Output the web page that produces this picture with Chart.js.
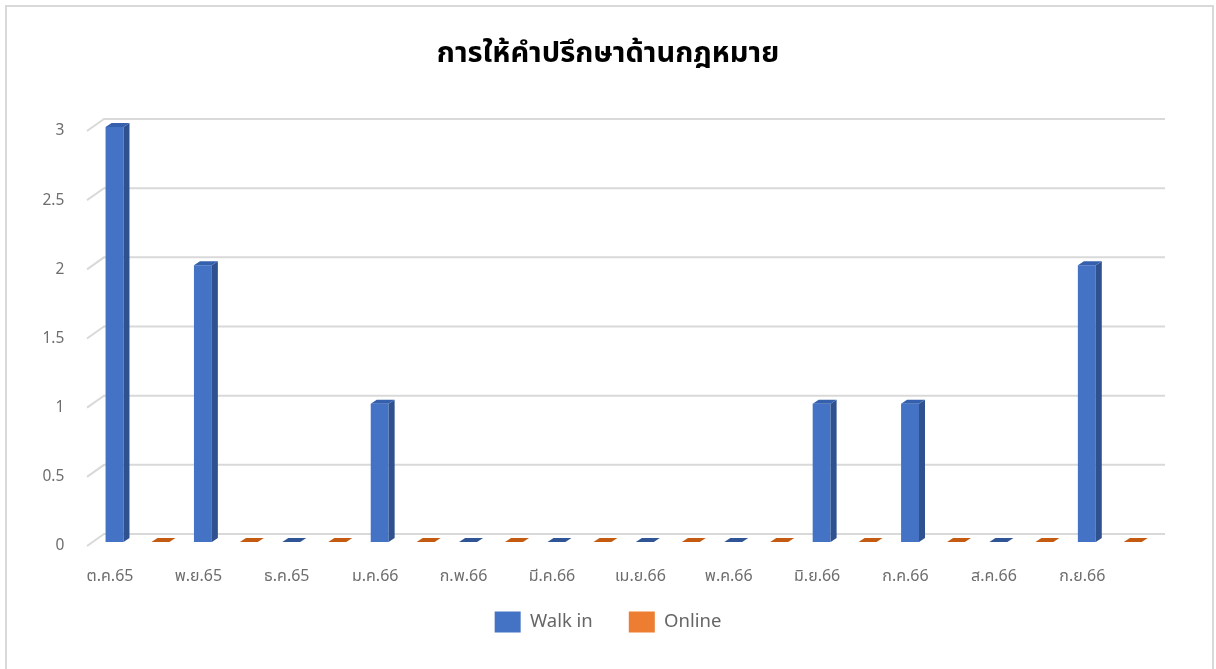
<!DOCTYPE html>
<html>
<head>
<meta charset="utf-8">
<script src="https://cdn.jsdelivr.net/npm/chart.js@4.4.1/dist/chart.umd.min.js"></script>
<style>
  html, body { margin: 0; padding: 0; background: #ffffff; }
  #wrap { position: relative; width: 1216px; height: 669px; overflow: hidden; }
  #frame { position: absolute; left: 5px; top: 5px; width: 1209px; height: 670px; border: 2px solid #d9d9d9; box-sizing: border-box; pointer-events: none; }
  canvas { display: block; }
</style>
</head>
<body>
<div id="wrap">
  <canvas id="c" width="1216" height="669"></canvas>
  <div id="frame"></div>
</div>
<script>
const titleText = 'การให้คำปรึกษาด้านกฎหมาย';
const categories = ['ต.ค.65', 'พ.ย.65', 'ธ.ค.65', 'ม.ค.66', 'ก.พ.66', 'มี.ค.66', 'เม.ย.66', 'พ.ค.66', 'มิ.ย.66', 'ก.ค.66', 'ส.ค.66', 'ก.ย.66'];
const walkIn = [3, 2, 0, 1, 0, 0, 0, 0, 1, 1, 0, 2];
const online = [0, 0, 0, 0, 0, 0, 0, 0, 0, 0, 0, 0];
const seriesNames = ['Walk in', 'Online'];
const yTicks = [0, 0.5, 1, 1.5, 2, 2.5, 3];

const FONT = "'Noto Sans', 'Noto Sans Thai', 'DejaVu Sans', sans-serif";
const DEPTH_X = 6, DEPTH_Y = 4;
const faceColors = [
  { front: '#4472C4', side: '#2F528F', top: '#3560AE', flat: '#2F5597' },
  { front: '#ED7D31', side: '#B85E22', top: '#C8642A', flat: '#C55A11' }
];

const wallPlugin = {
  id: 'wall',
  beforeDatasetsDraw(chart) {
    const ctx = chart.ctx;
    const y = chart.scales.y;
    ctx.save();
    ctx.strokeStyle = '#d9d9d9';
    ctx.lineWidth = 2;
    yTicks.forEach(v => {
      const py = y.getPixelForValue(v);
      const back = py - 8;
      const front = py + 4;
      ctx.beginPath();
      ctx.moveTo(87, front);
      ctx.lineTo(104, back);
      ctx.lineTo(1165, back);
      ctx.stroke();
    });
    ctx.restore();
  }
};

const bar3dPlugin = {
  id: 'bar3d',
  afterDatasetsDraw(chart) {
    const ctx = chart.ctx;
    ctx.save();
    chart.data.datasets.forEach((ds, di) => {
      const meta = chart.getDatasetMeta(di);
      const col = faceColors[di];
      meta.data.forEach((el, i) => {
        const p = el.getProps(['x', 'y', 'base', 'width'], true);
        const l = p.x - p.width / 2, r = p.x + p.width / 2;
        const top = Math.min(p.y, p.base), bot = Math.max(p.y, p.base);
        if (bot - top < 0.5) {
          ctx.fillStyle = col.flat;
          ctx.beginPath();
          ctx.moveTo(l, bot);
          ctx.lineTo(r, bot);
          ctx.lineTo(r + DEPTH_X, bot - DEPTH_Y);
          ctx.lineTo(l + DEPTH_X, bot - DEPTH_Y);
          ctx.closePath();
          ctx.fill();
          return;
        }
        ctx.fillStyle = col.side;
        ctx.beginPath();
        ctx.moveTo(r, top);
        ctx.lineTo(r + DEPTH_X, top - DEPTH_Y);
        ctx.lineTo(r + DEPTH_X, bot - DEPTH_Y);
        ctx.lineTo(r, bot);
        ctx.closePath();
        ctx.fill();
        ctx.fillStyle = col.top;
        ctx.beginPath();
        ctx.moveTo(l, top);
        ctx.lineTo(r, top);
        ctx.lineTo(r + DEPTH_X, top - DEPTH_Y);
        ctx.lineTo(l + DEPTH_X, top - DEPTH_Y);
        ctx.closePath();
        ctx.fill();
      });
    });
    ctx.restore();
  }
};

new Chart(document.getElementById('c'), {
  type: 'bar',
  data: {
    labels: categories,
    datasets: [
      { label: seriesNames[0], data: walkIn, backgroundColor: faceColors[0].front, borderWidth: 0 },
      { label: seriesNames[1], data: online, backgroundColor: faceColors[1].front, borderWidth: 0 }
    ]
  },
  plugins: [wallPlugin, bar3dPlugin],
  options: {
    responsive: false,
    animation: false,
    layout: { padding: { left: 0, right: 0, top: 0, bottom: 26.5 } },
    datasets: { bar: { categoryPercentage: 1.04, barPercentage: 0.39 } },
    plugins: {
      title: {
        display: true,
        text: titleText,
        color: '#000000',
        font: { family: FONT, size: 29, weight: 'bold', lineHeight: 1.2 },
        padding: { top: 36.6, bottom: 55.6 }
      },
      legend: {
        position: 'bottom',
        labels: {
          boxWidth: 26,
          boxHeight: 21,
          padding: 36,
          color: '#666666',
          font: { family: FONT, size: 18.5 }
        }
      },
      tooltip: { enabled: false }
    },
    scales: {
      x: {
        grid: { display: false, drawTicks: false },
        border: { display: false },
        ticks: {
          color: '#6e6e6e',
          font: { family: FONT, size: 16 },
          padding: 25,
          labelOffset: -27.5,
          maxRotation: 0,
          autoSkip: false
        },
        afterFit(s) {
          s.height = 33.5;
          s._computeLabelArea = () => undefined;
        }
      },
      y: {
        min: 0,
        max: 3,
        afterBuildTicks(s) { s.ticks = yTicks.map(v => ({ value: v })); },
        grid: { display: false, drawTicks: false },
        border: { display: false },
        ticks: {
          color: '#6e6e6e',
          font: { family: FONT, size: 15.5 },
          padding: 29,
          labelOffset: 4,
          callback: v => String(v)
        },
        afterFit(s) { s.width = 93.3; }
      },
      y2: {
        position: 'right',
        display: true,
        grid: { display: false, drawTicks: false },
        border: { display: false },
        ticks: { display: false },
        afterFit(s) { s.width = 62; }
      }
    }
  }
});
</script>
</body>
</html>
